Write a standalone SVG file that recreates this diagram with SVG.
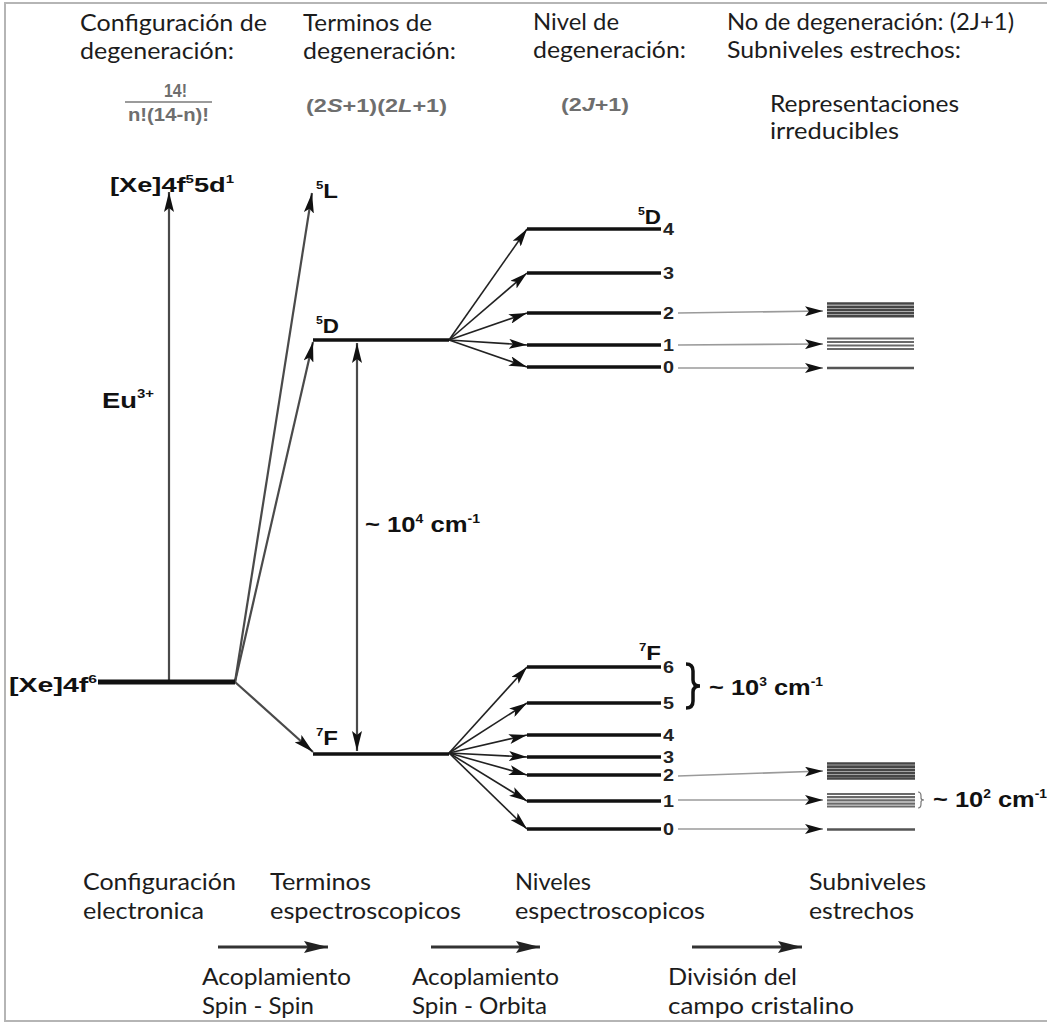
<svg xmlns="http://www.w3.org/2000/svg" width="1047" height="1024" viewBox="0 0 1047 1024">
  <style>
    .hdr { font-family: Lato, "Open Sans", sans-serif; font-size: 22.5px; fill: #1c1c1c; }
    .lbl { font-family: "Liberation Sans", Arial, sans-serif; font-weight: bold; fill: #111; }
    .frm { font-family: "Liberation Sans", Arial, sans-serif; font-weight: bold; font-size: 19px; fill: #6e6e6e; }
    .num { font-family: "Liberation Sans", Arial, sans-serif; font-weight: bold; font-size: 16px; fill: #222; }
    .level { stroke: #111; stroke-width: 3.5; }
    .fan { stroke: #222; stroke-width: 1.6; fill: none; marker-end: url(#headS); }
    .split { stroke: #9a9a9a; stroke-width: 1.6; fill: none; marker-end: url(#headS); }
    .big { stroke: #4a4a4a; stroke-width: 2.2; fill: none; marker-end: url(#headL); }
    .proc { stroke: #333; stroke-width: 3; fill: none; marker-end: url(#headP); }
    .band2 { stroke: #464646; stroke-width: 2.6; }
    .band1 { stroke: #6a6a6a; stroke-width: 2.2; }
    .band0 { stroke: #555; stroke-width: 2.5; }
  </style>
  <defs>
    <marker id="headL" viewBox="0 0 20 10" refX="20" refY="5" markerWidth="20" markerHeight="10" markerUnits="userSpaceOnUse" orient="auto-start-reverse">
      <path d="M0,0 L20,5 L0,10 L4,5 Z" fill="#111"/>
    </marker>
    <marker id="headS" viewBox="0 0 18 10" refX="18" refY="5" markerWidth="18" markerHeight="10" markerUnits="userSpaceOnUse" orient="auto">
      <path d="M0,0 L18,5 L0,10 L4,5 Z" fill="#111"/>
    </marker>
    <marker id="headP" viewBox="0 0 24 12" refX="24" refY="6" markerWidth="24" markerHeight="12" markerUnits="userSpaceOnUse" orient="auto">
      <path d="M0,0 L24,6 L0,12 L4,6 Z" fill="#222"/>
    </marker>
  </defs>

  <rect x="0" y="0" width="1047" height="1024" fill="#fff"/>
  <rect x="5" y="3" width="1070" height="1018" fill="none" stroke="#b5b5b5" stroke-width="2"/>

  <!-- column headings -->
  <g id="headings">
    <text class="hdr" x="80" y="31" textLength="187" lengthAdjust="spacingAndGlyphs">Configuración de</text>
    <text class="hdr" x="80" y="59" textLength="154" lengthAdjust="spacingAndGlyphs">degeneración:</text>
    <text class="hdr" x="303" y="31" textLength="129" lengthAdjust="spacingAndGlyphs">Terminos de</text>
    <text class="hdr" x="303" y="59" textLength="153" lengthAdjust="spacingAndGlyphs">degeneración:</text>
    <text class="hdr" x="533" y="30" textLength="86" lengthAdjust="spacingAndGlyphs">Nivel de</text>
    <text class="hdr" x="533" y="58" textLength="153" lengthAdjust="spacingAndGlyphs">degeneración:</text>
    <text class="hdr" x="727" y="30" textLength="287" lengthAdjust="spacingAndGlyphs">No de degeneración: (2J+1)</text>
    <text class="hdr" x="727" y="58" textLength="234" lengthAdjust="spacingAndGlyphs">Subniveles estrechos:</text>
    <text class="hdr" x="770" y="111.5" textLength="189" lengthAdjust="spacingAndGlyphs">Representaciones</text>
    <text class="hdr" x="770" y="139" textLength="129" lengthAdjust="spacingAndGlyphs">irreducibles</text>
  </g>

  <!-- degeneracy formulas -->
  <g id="formulas">
    <text class="frm" x="164" y="97" textLength="23" lengthAdjust="spacingAndGlyphs">14!</text>
    <line x1="125" y1="102" x2="212" y2="102" stroke="#7a7a7a" stroke-width="1.5"/>
    <text class="frm" x="128" y="121" textLength="81" lengthAdjust="spacingAndGlyphs">n!(14-n)!</text>
    <text class="frm" x="306" y="112" textLength="141" lengthAdjust="spacingAndGlyphs">(2<tspan font-style="italic">S</tspan>+1)(2<tspan font-style="italic">L</tspan>+1)</text>
    <text class="frm" x="561" y="111" textLength="68" lengthAdjust="spacingAndGlyphs">(2<tspan font-style="italic">J</tspan>+1)</text>
  </g>

  <!-- connectors -->
  <g id="connectors">
    <!-- configuration to terms -->
    <line class="big" x1="169" y1="681" x2="169" y2="192"/>
    <line class="big" x1="235" y1="682" x2="312" y2="193"/>
    <line class="big" x1="235" y1="682" x2="313" y2="342"/>
    <line class="big" x1="235" y1="682" x2="313" y2="752"/>
    <line class="big" x1="357" y1="343" x2="357" y2="751" marker-start="url(#headL)"/>
    <!-- 5D term to J levels -->
    <line class="fan" x1="449" y1="340" x2="527" y2="229"/>
    <line class="fan" x1="449" y1="340" x2="527" y2="273"/>
    <line class="fan" x1="449" y1="340" x2="527" y2="313"/>
    <line class="fan" x1="449" y1="340" x2="527" y2="345"/>
    <line class="fan" x1="449" y1="340" x2="527" y2="367"/>
    <!-- 7F term to J levels -->
    <line class="fan" x1="449" y1="753" x2="527" y2="667"/>
    <line class="fan" x1="449" y1="753" x2="527" y2="703"/>
    <line class="fan" x1="449" y1="753" x2="527" y2="735"/>
    <line class="fan" x1="449" y1="753" x2="527" y2="757"/>
    <line class="fan" x1="449" y1="753" x2="527" y2="775"/>
    <line class="fan" x1="449" y1="753" x2="527" y2="801"/>
    <line class="fan" x1="449" y1="753" x2="527" y2="829"/>
    <!-- crystal-field splitting -->
    <line class="split" x1="678" y1="313" x2="823" y2="311"/>
    <line class="split" x1="678" y1="345" x2="823" y2="344"/>
    <line class="split" x1="678" y1="368" x2="823" y2="368"/>
    <line class="split" x1="678" y1="776" x2="823" y2="771"/>
    <line class="split" x1="678" y1="800" x2="823" y2="800"/>
    <line class="split" x1="678" y1="829" x2="823" y2="829"/>
  </g>

  <!-- electronic configurations -->
  <g id="config-ground">
    <line x1="98" y1="682" x2="235" y2="682" stroke="#111" stroke-width="5"/>
    <text class="lbl" font-size="20" x="9" y="692" textLength="88" lengthAdjust="spacingAndGlyphs">[Xe]4f<tspan dy="-9" font-size="11">6</tspan></text>
  </g>
  <g id="config-excited">
    <text class="lbl" font-size="20" x="110" y="192" textLength="124" lengthAdjust="spacingAndGlyphs">[Xe]4f<tspan dy="-9" font-size="11">5</tspan><tspan dy="9">5d</tspan><tspan dy="-9" font-size="11">1</tspan></text>
  </g>
  <g id="ion-label">
    <text class="lbl" font-size="22" x="102" y="408" textLength="52" lengthAdjust="spacingAndGlyphs">Eu<tspan dy="-10" font-size="12">3+</tspan></text>
  </g>

  <!-- spectroscopic terms -->
  <g id="term-5L">
    <text class="lbl" font-size="20" x="316" y="198" textLength="22" lengthAdjust="spacingAndGlyphs"><tspan dy="-9" font-size="11">5</tspan><tspan dy="9">L</tspan></text>
  </g>
  <g id="term-5D">
    <line class="level" x1="313" y1="340" x2="449" y2="340"/>
    <text class="lbl" font-size="20" x="316" y="333" textLength="23" lengthAdjust="spacingAndGlyphs"><tspan dy="-9" font-size="11">5</tspan><tspan dy="9">D</tspan></text>
  </g>
  <g id="term-7F">
    <line class="level" x1="313" y1="754" x2="449" y2="754"/>
    <text class="lbl" font-size="20" x="316" y="745" textLength="22" lengthAdjust="spacingAndGlyphs"><tspan dy="-9" font-size="11">7</tspan><tspan dy="9">F</tspan></text>
  </g>
  <g id="gap-1e4">
    <text class="lbl" font-size="22" x="365" y="532" textLength="115" lengthAdjust="spacingAndGlyphs">~ 10<tspan dy="-9" font-size="12">4</tspan><tspan dy="9"> cm</tspan><tspan dy="-9" font-size="12">-1</tspan></text>
  </g>

  <!-- 5D J levels -->
  <g id="levels-5D">
    <line class="level" x1="527" y1="229" x2="661" y2="229"/>
    <line class="level" x1="527" y1="273" x2="661" y2="273"/>
    <line class="level" x1="527" y1="313" x2="661" y2="313"/>
    <line class="level" x1="527" y1="345" x2="661" y2="345"/>
    <line class="level" x1="527" y1="367" x2="661" y2="367"/>
    <text class="lbl" font-size="20" x="638" y="224" textLength="23" lengthAdjust="spacingAndGlyphs"><tspan dy="-9" font-size="11">5</tspan><tspan dy="9">D</tspan></text>
    <text class="num" x="663" y="235" textLength="11" lengthAdjust="spacingAndGlyphs">4</text>
    <text class="num" x="663" y="279" textLength="11" lengthAdjust="spacingAndGlyphs">3</text>
    <text class="num" x="663" y="319" textLength="11" lengthAdjust="spacingAndGlyphs">2</text>
    <text class="num" x="663" y="351" textLength="11" lengthAdjust="spacingAndGlyphs">1</text>
    <text class="num" x="663" y="373" textLength="11" lengthAdjust="spacingAndGlyphs">0</text>
  </g>

  <!-- 7F J levels -->
  <g id="levels-7F">
    <line class="level" x1="527" y1="667" x2="661" y2="667"/>
    <line class="level" x1="527" y1="703" x2="661" y2="703"/>
    <line class="level" x1="527" y1="735" x2="661" y2="735"/>
    <line class="level" x1="527" y1="757" x2="661" y2="757"/>
    <line class="level" x1="527" y1="775" x2="661" y2="775"/>
    <line class="level" x1="527" y1="801" x2="661" y2="801"/>
    <line class="level" x1="527" y1="829" x2="661" y2="829"/>
    <text class="lbl" font-size="20" x="639" y="660" textLength="22" lengthAdjust="spacingAndGlyphs"><tspan dy="-9" font-size="11">7</tspan><tspan dy="9">F</tspan></text>
    <text class="num" x="663" y="673" textLength="11" lengthAdjust="spacingAndGlyphs">6</text>
    <text class="num" x="663" y="709" textLength="11" lengthAdjust="spacingAndGlyphs">5</text>
    <text class="num" x="663" y="741" textLength="11" lengthAdjust="spacingAndGlyphs">4</text>
    <text class="num" x="663" y="763" textLength="11" lengthAdjust="spacingAndGlyphs">3</text>
    <text class="num" x="663" y="781" textLength="11" lengthAdjust="spacingAndGlyphs">2</text>
    <text class="num" x="663" y="807" textLength="11" lengthAdjust="spacingAndGlyphs">1</text>
    <text class="num" x="663" y="835" textLength="11" lengthAdjust="spacingAndGlyphs">0</text>
    <path d="M686,664 q7,0 7,7 v9 q0,6 7,6 q-7,0 -7,6 v9 q0,7 -7,7" fill="none" stroke="#111" stroke-width="3.5"/>
    <text class="lbl" font-size="22" x="709" y="695" textLength="114" lengthAdjust="spacingAndGlyphs">~ 10<tspan dy="-9" font-size="12">3</tspan><tspan dy="9"> cm</tspan><tspan dy="-9" font-size="12">-1</tspan></text>
  </g>

  <!-- crystal-field sublevels of 5D -->
  <g id="sublevels-5D">
    <line class="band2" x1="827" y1="303.5" x2="914" y2="303.5"/>
    <line class="band2" x1="827" y1="306.7" x2="914" y2="306.7"/>
    <line class="band2" x1="827" y1="309.9" x2="914" y2="309.9"/>
    <line class="band2" x1="827" y1="313.1" x2="914" y2="313.1"/>
    <line class="band2" x1="827" y1="316.3" x2="914" y2="316.3"/>
    <line class="band1" x1="827" y1="338.5" x2="914" y2="338.5"/>
    <line class="band1" x1="827" y1="342" x2="914" y2="342"/>
    <line class="band1" x1="827" y1="345.5" x2="914" y2="345.5"/>
    <line class="band1" x1="827" y1="349" x2="914" y2="349"/>
    <line class="band0" x1="827" y1="368" x2="914" y2="368"/>
  </g>

  <!-- crystal-field sublevels of 7F -->
  <g id="sublevels-7F">
    <line class="band2" x1="827" y1="763.5" x2="915" y2="763.5"/>
    <line class="band2" x1="827" y1="766.6" x2="915" y2="766.6"/>
    <line class="band2" x1="827" y1="769.7" x2="915" y2="769.7"/>
    <line class="band2" x1="827" y1="772.8" x2="915" y2="772.8"/>
    <line class="band2" x1="827" y1="775.9" x2="915" y2="775.9"/>
    <line class="band2" x1="827" y1="778.5" x2="915" y2="778.5"/>
    <line class="band1" x1="827" y1="794" x2="915" y2="794"/>
    <line class="band1" x1="827" y1="797.2" x2="915" y2="797.2"/>
    <line class="band1" x1="827" y1="800.4" x2="915" y2="800.4"/>
    <line class="band1" x1="827" y1="803.6" x2="915" y2="803.6"/>
    <line class="band1" x1="827" y1="806.5" x2="915" y2="806.5"/>
    <line class="band0" x1="827" y1="829.5" x2="915" y2="829.5"/>
    <path d="M918,792 q3,0 3,4 v2 q0,2 3,2 q-3,0 -3,2 v2 q0,4 -3,4" fill="none" stroke="#777" stroke-width="1.2"/>
    <text class="lbl" font-size="22" x="933" y="807" textLength="114" lengthAdjust="spacingAndGlyphs">~ 10<tspan dy="-9" font-size="12">2</tspan><tspan dy="9"> cm</tspan><tspan dy="-9" font-size="12">-1</tspan></text>
  </g>

  <!-- stage captions and interaction arrows -->
  <g id="stages">
    <text class="hdr" x="83" y="890" textLength="153" lengthAdjust="spacingAndGlyphs">Configuración</text>
    <text class="hdr" x="83" y="919" textLength="121" lengthAdjust="spacingAndGlyphs">electronica</text>
    <text class="hdr" x="270" y="890" textLength="101" lengthAdjust="spacingAndGlyphs">Terminos</text>
    <text class="hdr" x="270" y="919" textLength="191" lengthAdjust="spacingAndGlyphs">espectroscopicos</text>
    <text class="hdr" x="515" y="890" textLength="76" lengthAdjust="spacingAndGlyphs">Niveles</text>
    <text class="hdr" x="515" y="919" textLength="190" lengthAdjust="spacingAndGlyphs">espectroscopicos</text>
    <text class="hdr" x="809" y="890" textLength="117" lengthAdjust="spacingAndGlyphs">Subniveles</text>
    <text class="hdr" x="809" y="919" textLength="105" lengthAdjust="spacingAndGlyphs">estrechos</text>
  </g>
  <g id="interactions">
    <line class="proc" x1="218" y1="947" x2="328" y2="947"/>
    <line class="proc" x1="431" y1="947" x2="540" y2="947"/>
    <line class="proc" x1="692" y1="947" x2="802" y2="947"/>
    <text class="hdr" x="202" y="985" textLength="149" lengthAdjust="spacingAndGlyphs">Acoplamiento</text>
    <text class="hdr" x="202" y="1014" textLength="112" lengthAdjust="spacingAndGlyphs">Spin - Spin</text>
    <text class="hdr" x="412" y="985" textLength="147" lengthAdjust="spacingAndGlyphs">Acoplamiento</text>
    <text class="hdr" x="412" y="1014" textLength="135" lengthAdjust="spacingAndGlyphs">Spin - Orbita</text>
    <text class="hdr" x="668" y="985" textLength="129" lengthAdjust="spacingAndGlyphs">División del</text>
    <text class="hdr" x="668" y="1014" textLength="186" lengthAdjust="spacingAndGlyphs">campo cristalino</text>
  </g>
</svg>
